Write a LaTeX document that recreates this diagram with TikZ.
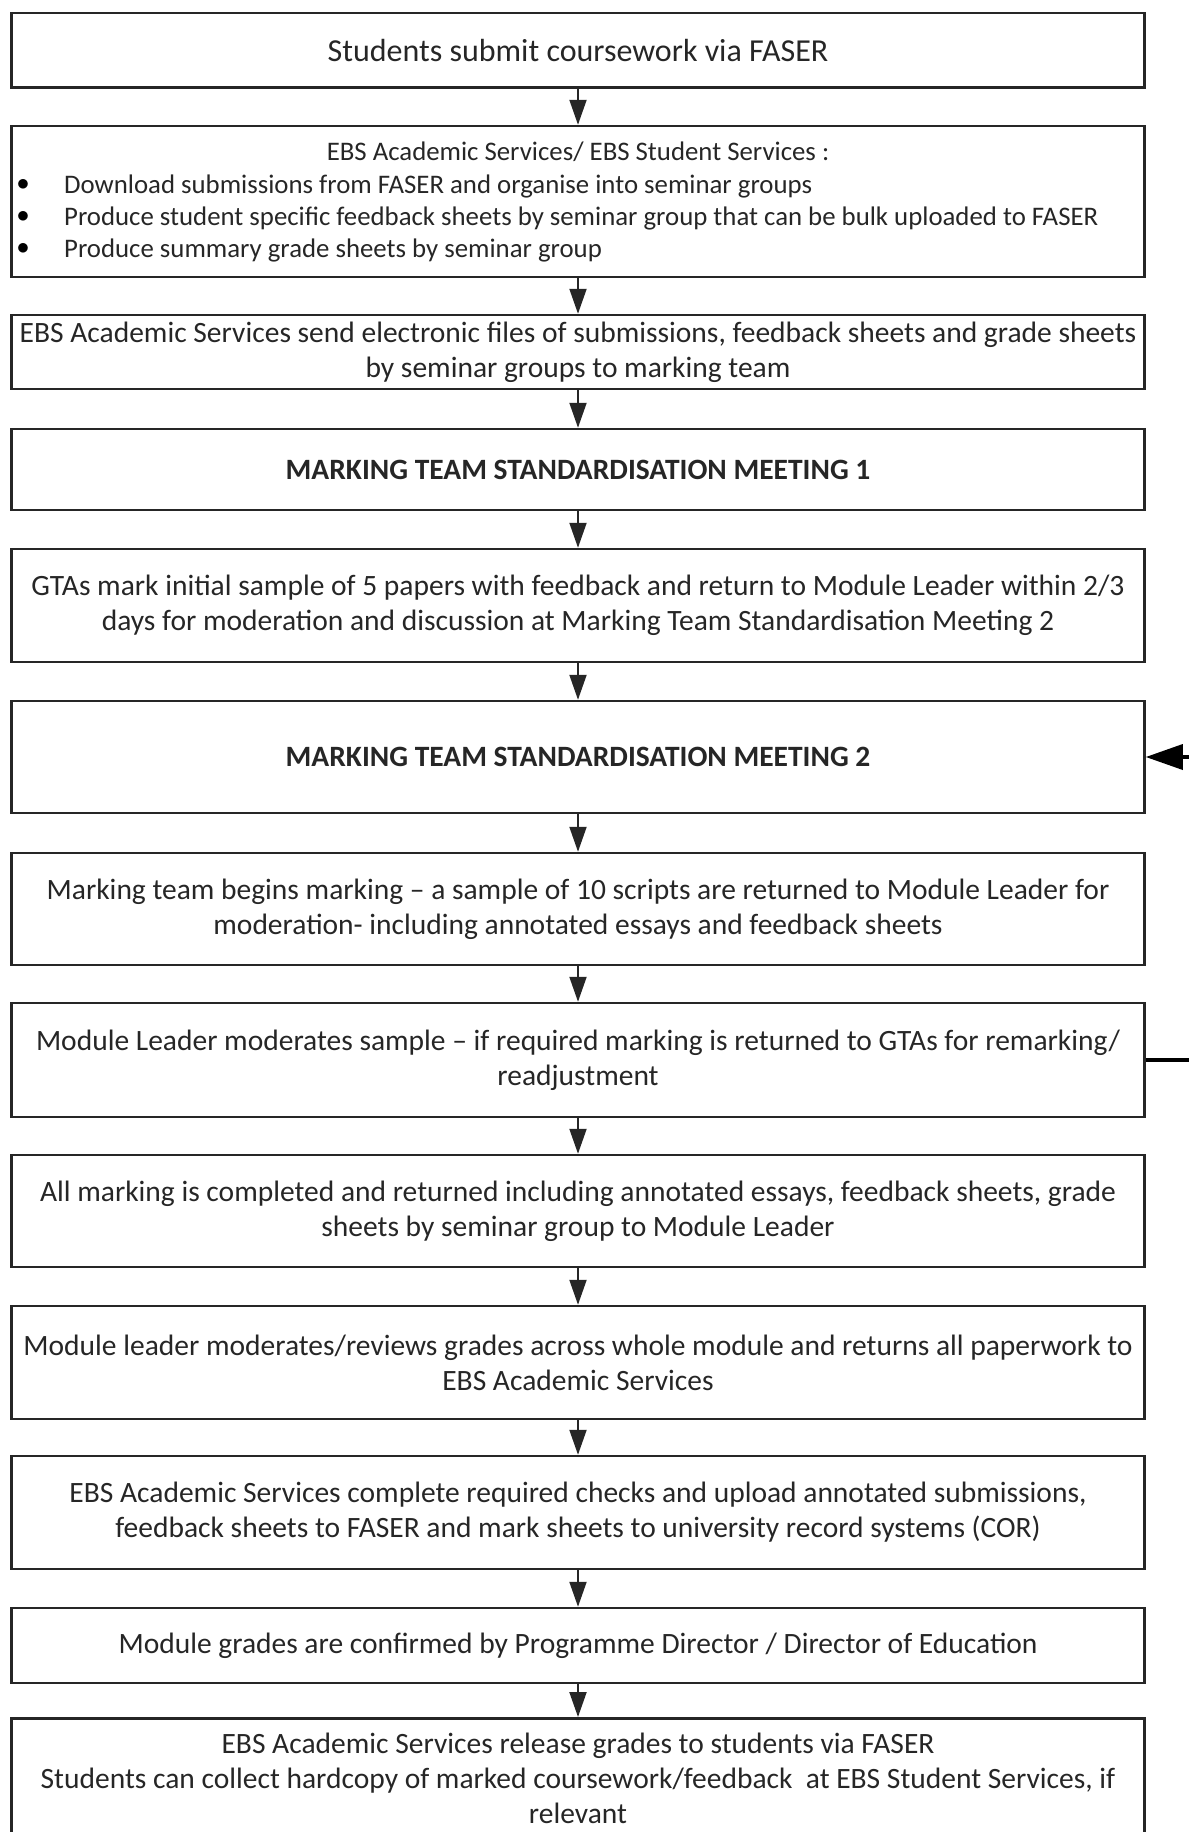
\documentclass[tikz,border=0pt]{standalone}
\usepackage{fontspec}
\setmainfont{Carlito}
\usetikzlibrary{arrows.meta}
\begin{document}
\begin{tikzpicture}[x=1pt,y=-1pt,
  box/.style={draw=black!85, line width=2.5pt, minimum width=1133pt, inner sep=0pt, align=center,
    font=\fontsize{29.5}{35}\selectfont, text=black!85},
  small/.style={font=\fontsize{26.8}{32.4}\selectfont, text=black!85, inner sep=0pt},
  bul/.style={font=\fontsize{38}{38}\selectfont, text=black, inner sep=0pt},
  bold/.style={font=\fontsize{29.5}{35}\selectfont\bfseries},
  flow/.style={line width=2pt, draw=black!85, -{Triangle[length=25pt,width=17pt]}},
  back/.style={line width=3.5pt, draw=black, -{Triangle[length=37pt,width=25pt]}}]
\useasboundingbox (0,0) rectangle (1189,1832);
\clip (0,0) rectangle (1189,1832);
\node[box, minimum height=74.8pt, font=\fontsize{32}{38}\selectfont] (b1) at (578,50.2) {Students submit coursework via FASER};
\node[box, minimum height=151pt] (b2) at (578,201.5) {};
\node[small, anchor=base] (b2t) at (578,160) {EBS Academic Services/ EBS Student Services :};
\node[bul] (u1) at (23,185) {$\bullet$};
\node[small, anchor=base west] (i1) at (64,193) {Download submissions from FASER and organise into seminar groups};
\node[bul] (u2) at (23,217) {$\bullet$};
\node[small, anchor=base west] (i2) at (64,225) {Produce student specific feedback sheets by seminar group that can be bulk uploaded to FASER};
\node[bul] (u3) at (23,249) {$\bullet$};
\node[small, anchor=base west] (i3) at (64,257) {Produce summary grade sheets by seminar group};
\node[box, minimum height=74pt] (b3) at (578,352) {EBS Academic Services send electronic files of submissions, feedback sheets and grade sheets\\by seminar groups to marking team};
\node[box, minimum height=81pt, bold] (b4) at (578,469.5) {MARKING TEAM STANDARDISATION MEETING 1};
\node[box, minimum height=113pt] (b5) at (578,605.5) {GTAs mark initial sample of 5 papers with feedback and return to Module Leader within 2/3\\days for moderation and discussion at Marking Team Standardisation Meeting 2};
\node[box, minimum height=112pt, bold] (b6) at (578,757) {MARKING TEAM STANDARDISATION MEETING 2};
\node[box, minimum height=112pt] (b7) at (578,909) {Marking team begins marking -- a sample of 10 scripts are returned to Module Leader for\\moderation- including annotated essays and feedback sheets};
\node[box, minimum height=114pt] (b8) at (578,1060) {Module Leader moderates sample -- if required marking is returned to GTAs for remarking/\\readjustment};
\node[box, minimum height=112pt] (b9) at (578,1211) {All marking is completed and returned including annotated essays, feedback sheets, grade\\sheets by seminar group to Module Leader};
\node[box, minimum height=113pt] (b10) at (578,1362.5) {Module leader moderates/reviews grades across whole module and returns all paperwork to\\EBS Academic Services};
\node[box, minimum height=113pt] (b11) at (578,1512.5) {EBS Academic Services complete required checks and upload annotated submissions,\\feedback sheets to FASER and mark sheets to university record systems (COR)};
\node[box, minimum height=75pt] (b12) at (578,1645.5) {Module grades are confirmed by Programme Director / Director of Education};
\node[box, minimum height=140pt, anchor=north] (b13) at (578,1717) {};
\node[font=\fontsize{29.5}{35}\selectfont, text=black!85, align=center, inner sep=0pt] (b13t) at (578,1778) {EBS Academic Services release grades to students via FASER\\Students can collect hardcopy of marked coursework/feedback\ \ at EBS Student Services, if\\relevant};
\foreach \a/\b in {b1/b2,b2/b3,b3/b4,b4/b5,b5/b6,b6/b7,b7/b8,b8/b9,b9/b10,b10/b11,b11/b12,b12/b13}
  \draw[flow] (\a.south) -- (\b.north);
\coordinate (r) at (1215,0);
\draw[line width=3.5pt] (b8.east) -- (b8.east -| r) -- (b6.east -| r);
\draw[back] (b6.east -| r) -- (b6.east);
\end{tikzpicture}
\end{document}
